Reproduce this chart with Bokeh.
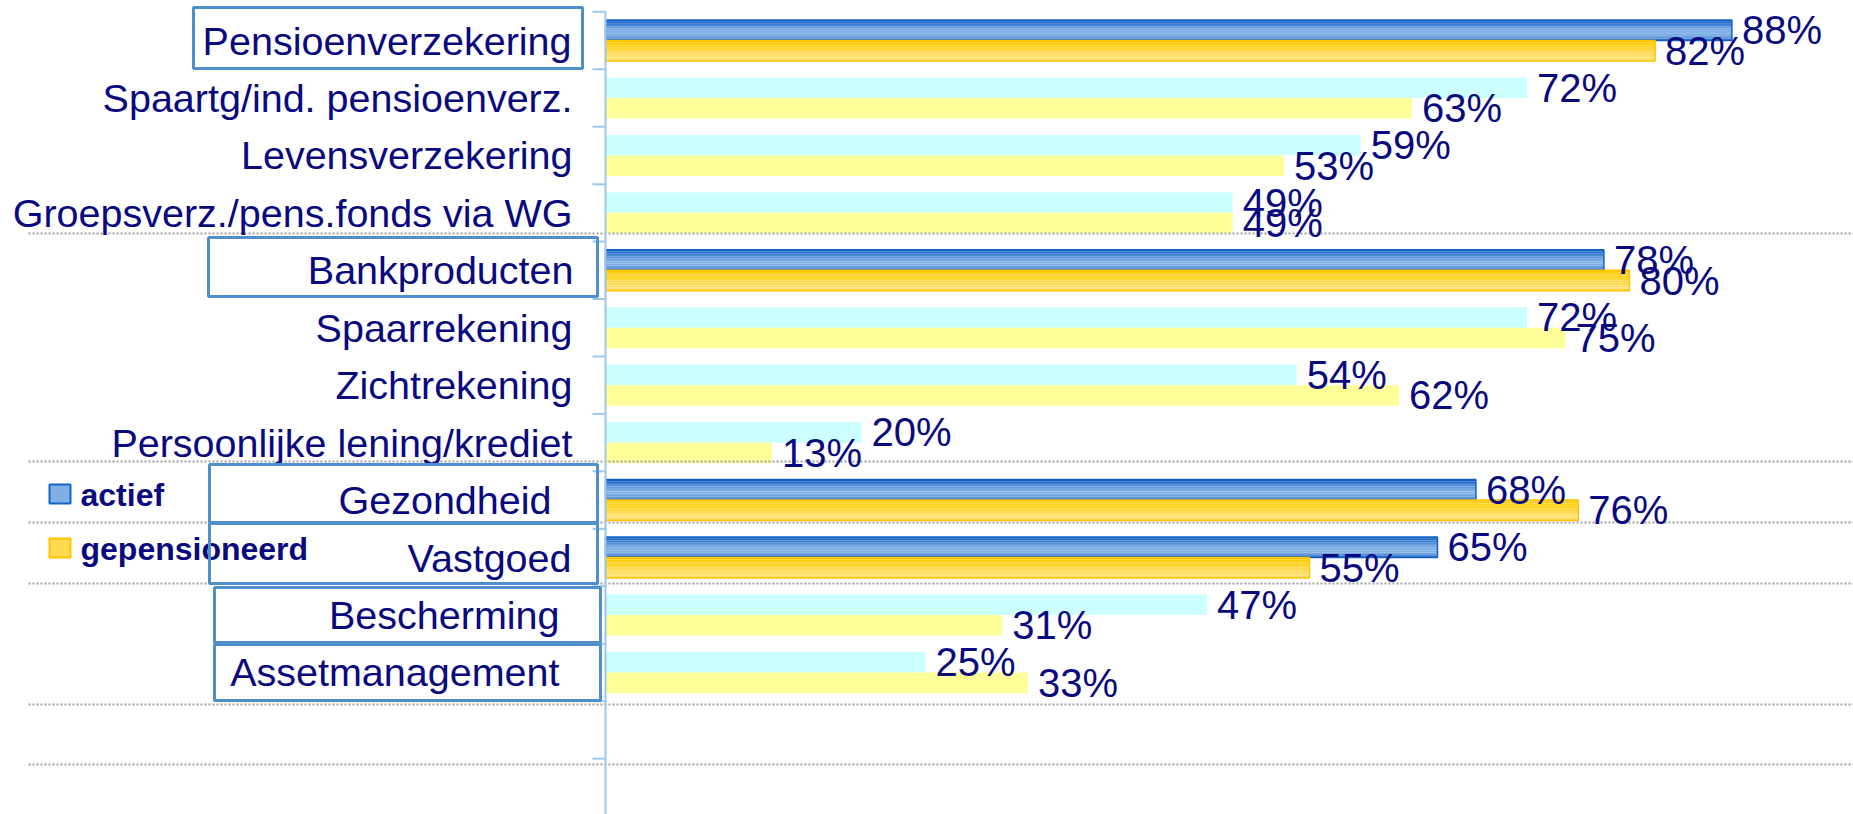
from bokeh.plotting import figure
from bokeh.models import Range1d, ColumnDataSource
from bokeh.transform import dodge
from bokeh.core.properties import value
from bokeh.embed import file_html
from bokeh.resources import INLINE

# ---------------- data ----------------
categories = ["Pensioenverzekering", "Spaartg/ind. pensioenverz.", "Levensverzekering",
              "Groepsverz./pens.fonds via WG", "Bankproducten", "Spaarrekening",
              "Zichtrekening", "Persoonlijke lening/krediet", "Gezondheid", "Vastgoed",
              "Bescherming", "Assetmanagement"]
actief = [88, 72, 59, 49, 78, 72, 54, 20, 68, 65, 47, 25]
gepensioneerd = [82, 63, 53, 49, 80, 75, 62, 13, 76, 55, 31, 33]
main_group = [True, False, False, False, True, False, False, False, True, True, False, False]
series_names = ["actief", "gepensioneerd"]

# ---------------- layout helpers (reference pixel -> data) ----------------
AX0 = 605.0      # pixel of value 0
PXV = 12.8       # pixels per percent
CY0 = 40.0       # pixel centre of first category
PXC = 57.45      # pixels per category


def X(px):
    return (px - AX0) / PXV


def Y(py):
    return (py - CY0) / PXC


W, H = 1853, 814
p = figure(width=W, height=H, output_backend="svg", toolbar_location=None,
           x_range=Range1d(X(0), X(W)), y_range=Range1d(Y(H), Y(0)),
           x_axis_location=None, y_axis_location=None, min_border=0,
           outline_line_color=None, background_fill_color="white",
           border_fill_color="white")
p.grid.visible = False

NAVY = "#0A0A80"
FONT = value("Liberation Sans")

n = len(categories)
idx = list(range(n))
BAR_H = 0.357
OFF = BAR_H / 2

src_all = ColumnDataSource(dict(
    y=idx, a=actief, g=gepensioneerd, cat=categories,
    al=[f"{v}%" for v in actief], gl=[f"{v}%" for v in gepensioneerd]))

hi = [i for i in idx if main_group[i]]
lo = [i for i in idx if not main_group[i]]
src_hi = ColumnDataSource(dict(y=hi, a=[actief[i] for i in hi], g=[gepensioneerd[i] for i in hi]))
src_lo = ColumnDataSource(dict(y=lo, a=[actief[i] for i in lo], g=[gepensioneerd[i] for i in lo]))

# plain bars
p.hbar(y=dodge("y", -OFF, range=p.y_range), right="a", left=0, height=BAR_H,
       source=src_lo, fill_color="#CCFFFF", line_color=None)
p.hbar(y=dodge("y", OFF, range=p.y_range), right="g", left=0, height=BAR_H,
       source=src_lo, fill_color="#FFFF99", line_color=None)


def hex2rgb(h):
    h = h.lstrip("#")
    return tuple(int(h[i:i + 2], 16) for i in (0, 2, 4))


def grad(stops, t):
    for (t0, c0), (t1, c1) in zip(stops[:-1], stops[1:]):
        if t0 <= t <= t1:
            f = (t - t0) / (t1 - t0) if t1 > t0 else 0
            a, b = hex2rgb(c0), hex2rgb(c1)
            return "#%02x%02x%02x" % tuple(int(round(a[k] + (b[k] - a[k]) * f)) for k in range(3))
    return stops[-1][1]


blue_stops = [(0, "#0858C0"), (0.15, "#2A72CE"), (0.4, "#6A9EDE"), (0.62, "#84B3E6"),
              (0.86, "#6C9FDD"), (1.0, "#1A66C8")]
gold_stops = [(0, "#FFC800"), (0.3, "#FFD322"), (0.88, "#FFE27A"), (1.0, "#FFD040")]

NS = 12
for col, off, stops, border in (("a", -OFF, blue_stops, "#1262C6"), ("g", OFF, gold_stops, "#FFC400")):
    for k in range(NS):
        c = grad(stops, (k + 0.5) / NS)
        yo = off - BAR_H / 2 + (k + 0.5) * BAR_H / NS
        p.hbar(y=dodge("y", yo, range=p.y_range), right=col, left=0, height=BAR_H / NS * 1.05,
               source=src_hi, fill_color=c, line_color=None)
    p.hbar(y=dodge("y", off, range=p.y_range), right=col, left=0, height=BAR_H,
           source=src_hi, fill_alpha=0, line_color=border, line_width=1.5)

# dotted separators
dot_y = [233, 461, 522, 583, 704, 764]
p.segment(x0=[X(28)] * len(dot_y), x1=[X(W)] * len(dot_y), y0=[Y(v) for v in dot_y],
          y1=[Y(v) for v in dot_y], line_color="#A0A0A0", line_width=2, line_dash="2 2")

# axis line and ticks
p.segment(x0=[0], x1=[0], y0=[-0.5], y1=[Y(H)], line_color="#9CC8EC", line_width=2)
tick_y = [k - 0.5 for k in range(n + 2)]
p.segment(x0=[X(592)] * len(tick_y), x1=[0] * len(tick_y), y0=tick_y, y1=tick_y,
          line_color="#9CC8EC", line_width=2)

# value labels
VAL_SIZE = "40px"
p.text(x="a", y=dodge("y", -OFF, range=p.y_range), text="al", source=src_all, x_offset=10,
       text_font=FONT, text_font_size=VAL_SIZE, text_color=NAVY,
       text_align="left", text_baseline="middle")
p.text(x="g", y=dodge("y", OFF, range=p.y_range), text="gl", source=src_all, x_offset=10,
       text_font=FONT, text_font_size=VAL_SIZE, text_color=NAVY,
       text_align="left", text_baseline="middle")

# category labels (right edges in reference pixels)
label_right_px = [571, 572, 572, 572, 573, 572, 572, 572, 551, 571, 559, 559]
cat_src = ColumnDataSource(dict(x=[X(v) for v in label_right_px], y=idx, t=categories))
p.text(x="x", y="y", text="t", source=cat_src, text_font=FONT, text_font_size="39.5px",
       text_color=NAVY, text_align="right", text_baseline="middle")

# legend
leg_src = ColumnDataSource(dict(x=[X(59.5)] * 2, y=[Y(493.5), Y(547.5)],
                                fill=["#80AFE3", "#FFDA50"], line=["#1565C8", "#FFC400"],
                                tx=[X(80)] * 2, ty=[Y(494), Y(548)], t=series_names))
p.rect(x="x", y="y", width=21 / PXV, height=19 / PXC, source=leg_src,
       fill_color="fill", line_color="line", line_width=2)
p.text(x="tx", y="ty", text="t", source=leg_src, text_font=FONT, text_font_style="bold",
       text_font_size="32px", text_color=NAVY, text_align="left", text_baseline="middle")

# boxes around main groups (reference pixels)
boxes = [(193, 7, 582, 68), (208, 237, 597, 296), (209, 464, 597, 522),
         (209, 523, 597, 583), (214, 587, 600, 642), (214, 644, 600, 700)]
p.quad(left=[X(b[0]) for b in boxes], right=[X(b[2]) for b in boxes],
       top=[Y(b[1]) for b in boxes], bottom=[Y(b[3]) for b in boxes],
       fill_alpha=0, line_color="#4E8FCC", line_width=3)

open("out.html", "w").write(file_html(p, INLINE))
